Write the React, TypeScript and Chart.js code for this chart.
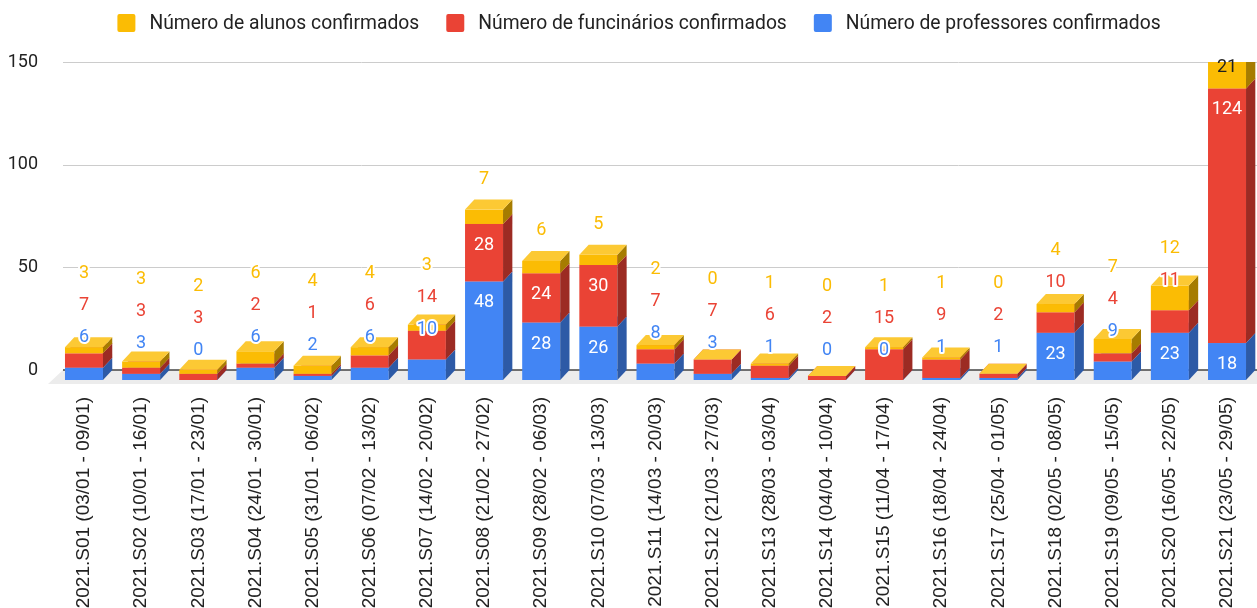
import React, { useEffect, useRef } from "react";
import { Chart, registerables } from "chart.js";

Chart.register(...registerables);

const categories = [
  "2021.S01 (03/01 - 09/01)",
  "2021.S02 (10/01 - 16/01)",
  "2021.S03 (17/01 - 23/01)",
  "2021.S04 (24/01 - 30/01)",
  "2021.S05 (31/01 - 06/02)",
  "2021.S06 (07/02 - 13/02)",
  "2021.S07 (14/02 - 20/02)",
  "2021.S08 (21/02 - 27/02)",
  "2021.S09 (28/02 - 06/03)",
  "2021.S10 (07/03 - 13/03)",
  "2021.S11 (14/03 - 20/03)",
  "2021.S12 (21/03 - 27/03)",
  "2021.S13 (28/03 - 03/04)",
  "2021.S14 (04/04 - 10/04)",
  "2021.S15 (11/04 - 17/04)",
  "2021.S16 (18/04 - 24/04)",
  "2021.S17 (25/04 - 01/05)",
  "2021.S18 (02/05 - 08/05)",
  "2021.S19 (09/05 - 15/05)",
  "2021.S20 (16/05 - 22/05)",
  "2021.S21 (23/05 - 29/05)",
];

const professores = [6, 3, 0, 6, 2, 6, 10, 48, 28, 26, 8, 3, 1, 0, 0, 1, 1, 23, 9, 23, 18];
const funcionarios = [7, 3, 3, 2, 1, 6, 14, 28, 24, 30, 7, 7, 6, 2, 15, 9, 2, 10, 4, 11, 124];
const alunos = [3, 3, 2, 6, 4, 4, 3, 7, 6, 5, 2, 0, 1, 0, 1, 1, 0, 4, 7, 12, 21];

const seriesNames = [
  "Número de professores confirmados",
  "Número de funcinários confirmados",
  "Número de alunos confirmados",
];

const yTicks = [0, 50, 100, 150];

const palette = [
  { front: "#4285F4", side: "#2D5AA6", top: "#6A9EF6", inside: "#FFFFFF" },
  { front: "#EA4335", side: "#9C2B23", top: "#EE6A5F", inside: "#FFFFFF" },
  { front: "#FBBC04", side: "#A67C00", top: "#FCC934", inside: "#1F1F1F" },
];

const DX = 9.3;
const DY = 10;

const bars3d = {
  id: "bars3d",
  beforeDatasetsDraw(chart: any) {
    const { ctx, chartArea: ca, scales } = chart;
    const ys = scales.y;
    const W = chart.width;
    const y0 = ys.getPixelForValue(0);
    const gridLeft = 63;

    ctx.save();
    // gridlines on the back wall
    ctx.strokeStyle = "#cccccc";
    ctx.lineWidth = 1;
    ys.ticks.forEach((t: any) => {
      if (t.value === 0) return;
      const py = Math.round(ys.getPixelForValue(t.value)) + 0.5;
      ctx.beginPath();
      ctx.moveTo(gridLeft, py);
      ctx.lineTo(W, py);
      ctx.stroke();
    });
    // floor
    ctx.fillStyle = "#ececec";
    ctx.beginPath();
    ctx.moveTo(gridLeft, y0);
    ctx.lineTo(W, y0);
    ctx.lineTo(W, y0 + 14);
    ctx.lineTo(gridLeft - 15, y0 + 14);
    ctx.closePath();
    ctx.fill();
    // zero line
    ctx.strokeStyle = "#444444";
    ctx.lineWidth = 1.5;
    ctx.beginPath();
    ctx.moveTo(gridLeft, y0);
    ctx.lineTo(W, y0);
    ctx.stroke();

    // bars
    ctx.save();
    ctx.beginPath();
    ctx.rect(0, ca.top, W, chart.height - ca.top);
    ctx.clip();
    const n = chart.data.labels.length;
    for (let i = 0; i < n; i++) {
      chart.data.datasets.forEach((_ds: any, d: number) => {
        const el: any = chart.getDatasetMeta(d).data[i];
        const x0 = el.x - el.width / 2;
        const x1 = el.x + el.width / 2;
        const yt = el.y + DY;
        const yb = el.base + DY;
        const c = palette[d];
        ctx.fillStyle = c.front;
        ctx.fillRect(x0, yt, x1 - x0, yb - yt);
        ctx.fillStyle = c.side;
        ctx.beginPath();
        ctx.moveTo(x1, yb);
        ctx.lineTo(x1 + DX, yb - DY);
        ctx.lineTo(x1 + DX, yt - DY);
        ctx.lineTo(x1, yt);
        ctx.closePath();
        ctx.fill();
        ctx.fillStyle = c.top;
        ctx.beginPath();
        ctx.moveTo(x0, yt);
        ctx.lineTo(x0 + DX, yt - DY);
        ctx.lineTo(x1 + DX, yt - DY);
        ctx.lineTo(x1, yt);
        ctx.closePath();
        ctx.fill();
      });
    }
    ctx.restore();

    // data labels
    ctx.font = "18px Roboto";
    ctx.textAlign = "center";
    ctx.textBaseline = "middle";
    ctx.lineJoin = "round";
    for (let i = 0; i < n; i++) {
      let prev = Infinity;
      chart.data.datasets.forEach((ds: any, d: number) => {
        const el: any = chart.getDatasetMeta(d).data[i];
        const h = el.base - el.y;
        const fits = h >= 33;
        let ly = fits ? el.y + DY + 20.5 : el.y - 21;
        ly = Math.min(ly, prev - 32);
        ly = Math.max(ly, ca.top + 4);
        prev = ly;
        const txt = String(ds.data[i]);
        const c = palette[d];
        if (fits) {
          ctx.fillStyle = c.inside;
          ctx.fillText(txt, el.x, ly + 1);
        } else {
          ctx.strokeStyle = "#ffffff";
          ctx.lineWidth = 4;
          ctx.strokeText(txt, el.x, ly + 1);
          ctx.fillStyle = c.front;
          ctx.fillText(txt, el.x, ly + 1);
        }
      });
    }
    ctx.restore();
    return false;
  },
  afterDraw(chart: any) {
    const { ctx } = chart;
    const items = chart.data.datasets
      .map((ds: any, d: number) => ({ label: ds.label, color: palette[d].front }))
      .reverse();
    ctx.save();
    ctx.font = "19.3px Roboto";
    ctx.textBaseline = "middle";
    ctx.textAlign = "left";
    const box = 18;
    const gapText = 14;
    const gapItem = 27;
    const widths = items.map((it: any) => ctx.measureText(it.label).width);
    const total =
      widths.reduce((a: number, w: number) => a + box + gapText + w, 0) + gapItem * (items.length - 1);
    let x = chart.width / 2 + 10.5 - total / 2;
    const cy = 23;
    items.forEach((it: any, k: number) => {
      ctx.fillStyle = it.color;
      ctx.beginPath();
      (ctx as any).roundRect(x, cy - box / 2, box, box, 2);
      ctx.fill();
      x += box + gapText;
      ctx.fillStyle = "#222222";
      ctx.fillText(it.label, x, cy + 1);
      x += widths[k] + gapItem;
    });
    ctx.restore();
  },
};

export default function App() {
  const ref = useRef<HTMLCanvasElement | null>(null);
  useEffect(() => {
    if (!ref.current) return;
    const series = [professores, funcionarios, alunos];
    const chart = new Chart(ref.current, {
      type: "bar",
      data: {
        labels: categories,
        datasets: series.map((s, d) => ({
          label: seriesNames[d],
          data: s,
          backgroundColor: palette[d].front,
          categoryPercentage: 1,
          barPercentage: 0.665,
        })),
      },
      options: {
        animation: false,
        responsive: true,
        maintainAspectRatio: false,
        layout: { padding: { top: 62, right: 1.4, left: 0, bottom: 0 } },
        plugins: { legend: { display: false }, tooltip: { enabled: false } },
        scales: {
          x: {
            stacked: true,
            grid: { display: false, drawTicks: false },
            border: { display: false },
            ticks: {
              autoSkip: false,
              minRotation: 90,
              maxRotation: 90,
              padding: 27,
              color: "#222222",
              font: { family: "Liberation Sans", size: 19 },
            },
            afterFit: (s: any) => {
              s.height = 238;
              s.paddingLeft = 0;
              s.paddingRight = 0;
            },
          },
          y: {
            stacked: true,
            min: 0,
            max: 150,
            grid: { display: false, drawTicks: false },
            border: { display: false },
            ticks: {
              padding: 17.4,
              color: "#222222",
              font: { family: "Roboto", size: 18 },
            },
            afterBuildTicks: (s: any) => {
              s.ticks = yTicks.map((v) => ({ value: v }));
            },
            afterFit: (s: any) => {
              s.width = 55.4;
              s.paddingTop = 0;
              s.paddingBottom = 0;
            },
          },
        },
      },
      plugins: [bars3d],
    } as any);
    return () => chart.destroy();
  }, []);
  return (
    <div style={{ position: "absolute", left: 0, top: 0, width: 1257, height: 608 }}>
      <canvas ref={ref} />
    </div>
  );
}
